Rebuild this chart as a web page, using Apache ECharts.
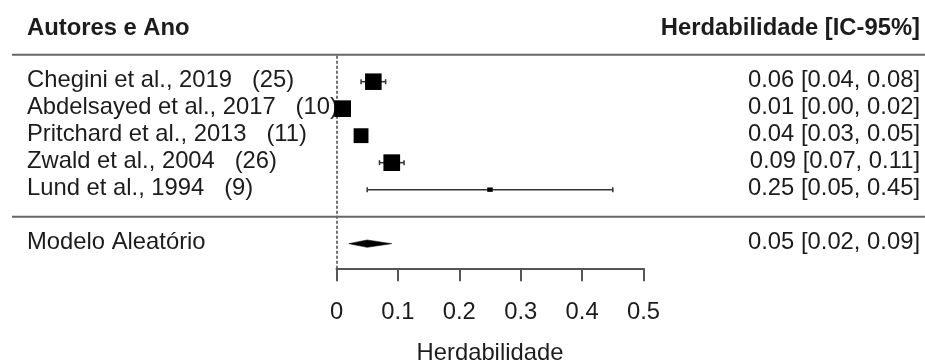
<!DOCTYPE html>
<html>
<head>
<meta charset="utf-8">
<script src="https://cdn.jsdelivr.net/npm/echarts@6/dist/echarts.min.js"></script>
<style>
html,body{margin:0;padding:0;background:#fff;}
#chart{width:925px;height:363px;}
</style>
</head>
<body>
<div id="chart"></div>
<script>
// ---- data ----
const studies = ['Chegini et al., 2019', 'Abdelsayed et al., 2017', 'Pritchard et al., 2013', 'Zwald et al., 2004', 'Lund et al., 1994'];
const sampleSizes = [25, 10, 11, 26, 9];
const estimates = [0.06, 0.01, 0.04, 0.09, 0.25];
const ciLower = [0.04, 0.00, 0.03, 0.07, 0.05];
const ciUpper = [0.08, 0.02, 0.05, 0.11, 0.45];
const weights = [25.0, 25.3, 21.4, 25.3, 1.8]; // approximate study weights (%)
const pooledLabel = 'Modelo Aleatório';
const pooledEst = 0.05, pooledLower = 0.02, pooledUpper = 0.09;
const xTicks = [0, 0.1, 0.2, 0.3, 0.4, 0.5];
const headerLeft = 'Autores e Ano';
const headerRight = 'Herdabilidade [IC-95%]';
const axisTitle = 'Herdabilidade';

// ---- layout helpers ----
const FONT = "'Liberation Sans', Arial, sans-serif";
const FS = 23.8;
const TXT = '#1c1c1c';
const k = studies.length;
const studyRows = studies.map((_, i) => k - i);  // k..1
const pooledRow = -1, sepRow = 0, headLineRow = k + 1, headTextRow = k + 2;
const minW = Math.min(...weights), maxW = Math.max(...weights);
const fmt = (e, l, u) => e.toFixed(2) + ' [' + l.toFixed(2) + ', ' + u.toFixed(2) + ']';

const studyData = studies.map((s, i) => [studyRows[i], estimates[i], ciLower[i], ciUpper[i], weights[i]]);

const chart = echarts.init(document.getElementById('chart'), null, {renderer: 'canvas'});

const option = {
  backgroundColor: '#fff',
  animation: false,
  grid: {left: 336.5, width: 307, top: 54.7, bottom: 94.7, containLabel: false, outerBoundsMode: 'none'},
  xAxis: {
    type: 'value', min: 0, max: 0.5, interval: 0.1,
    name: axisTitle, nameLocation: 'middle', nameGap: 73,
    nameTextStyle: {fontSize: FS, fontFamily: FONT, color: TXT},
    axisLine: {show: true, onZero: false, lineStyle: {color: '#555', width: 2}},
    axisTick: {show: true, length: 13, lineStyle: {color: '#555', width: 2}},
    axisLabel: {fontSize: FS, fontFamily: FONT, color: TXT, margin: 32,
      formatter: v => { const t = xTicks.find(x => Math.abs(x - v) < 1e-9); return t === undefined ? '' : String(t); }},
    splitLine: {show: false}
  },
  yAxis: {
    type: 'value', min: -1.913, max: headLineRow,
    axisLine: {show: true, onZero: false, lineStyle: {color: '#444', width: 1.5, type: [2, 3]}},
    axisTick: {show: false}, axisLabel: {show: false}, splitLine: {show: false}
  },
  series: [
    {
      type: 'custom', clip: false, silent: true,
      data: [[0]],
      renderItem: function (params, api) {
        const W = api.getWidth();
        const children = [];
        const yOf = r => api.coord([0, r])[1];
        // horizontal lines
        [headLineRow, sepRow].forEach(r => {
          const y = yOf(r);
          children.push({type: 'line', shape: {x1: 12, y1: y, x2: W, y2: y},
            style: {stroke: '#666', lineWidth: 2}});
        });
        // headers
        const yh = yOf(headTextRow) + 1;
        children.push({type: 'text', x: 27, y: yh, style: {text: headerLeft, fontSize: FS, fontWeight: 'bold', fontFamily: FONT, fill: TXT, textAlign: 'left', textVerticalAlign: 'middle'}});
        children.push({type: 'text', x: W - 5, y: yh, style: {text: headerRight, fontSize: FS, fontWeight: 'bold', fontFamily: FONT, fill: TXT, textAlign: 'right', textVerticalAlign: 'middle'}});
        // study rows
        studies.forEach((s, i) => {
          const y = yOf(studyRows[i]) - 1;
          children.push({type: 'text', x: 27, y: y, style: {text: s + '   (' + sampleSizes[i] + ')', fontSize: FS, fontFamily: FONT, fill: TXT, textAlign: 'left', textVerticalAlign: 'middle'}});
          children.push({type: 'text', x: W - 5, y: y, style: {text: fmt(estimates[i], ciLower[i], ciUpper[i]), fontSize: FS, fontFamily: FONT, fill: TXT, textAlign: 'right', textVerticalAlign: 'middle'}});
        });
        const yp = yOf(pooledRow) - 1;
        children.push({type: 'text', x: 27, y: yp, style: {text: pooledLabel, fontSize: FS, fontFamily: FONT, fill: TXT, textAlign: 'left', textVerticalAlign: 'middle'}});
        children.push({type: 'text', x: W - 5, y: yp, style: {text: fmt(pooledEst, pooledLower, pooledUpper), fontSize: FS, fontFamily: FONT, fill: TXT, textAlign: 'right', textVerticalAlign: 'middle'}});
        return {type: 'group', children: children};
      }
    },
    {
      type: 'custom', clip: false, silent: true,
      data: studyData,
      encode: {x: [1, 2, 3], y: 0},
      renderItem: function (params, api) {
        const row = api.value(0), est = api.value(1), lo = api.value(2), hi = api.value(3), w = api.value(4);
        const pL = api.coord([lo, row]), pH = api.coord([hi, row]), pE = api.coord([est, row]);
        const size = 5.5 + (w - minW) / (maxW - minW) * 11.2;
        const cap = 2.5;
        return {type: 'group', children: [
          {type: 'line', shape: {x1: pL[0], y1: pL[1], x2: pH[0], y2: pH[1]}, style: {stroke: '#333', lineWidth: 1.5}},
          {type: 'line', shape: {x1: pL[0], y1: pL[1] - cap, x2: pL[0], y2: pL[1] + cap}, style: {stroke: '#333', lineWidth: 1.5}},
          {type: 'line', shape: {x1: pH[0], y1: pH[1] - cap, x2: pH[0], y2: pH[1] + cap}, style: {stroke: '#333', lineWidth: 1.5}},
          {type: 'rect', shape: {x: pE[0] - size / 2, y: pE[1] - size / 2 * (w === minW ? 0.8 : 1), width: size, height: size * (w === minW ? 0.8 : 1)}, style: {fill: '#000'}}
        ]};
      }
    },
    {
      type: 'custom', clip: false, silent: true,
      data: [[pooledRow, pooledEst, pooledLower, pooledUpper]],
      encode: {x: [1, 2, 3], y: 0},
      renderItem: function (params, api) {
        const row = api.value(0);
        const pL = api.coord([api.value(2), row]), pH = api.coord([api.value(3), row]), pE = api.coord([api.value(1), row]);
        const h = 3.7;
        return {type: 'polygon', shape: {points: [[pL[0], pL[1]], [pE[0], pE[1] - h], [pH[0], pH[1]], [pE[0], pE[1] + h]]},
          style: {fill: '#000', stroke: '#000', lineWidth: 0.5}};
      }
    }
  ]
};
chart.setOption(option);
</script>
</body>
</html>
